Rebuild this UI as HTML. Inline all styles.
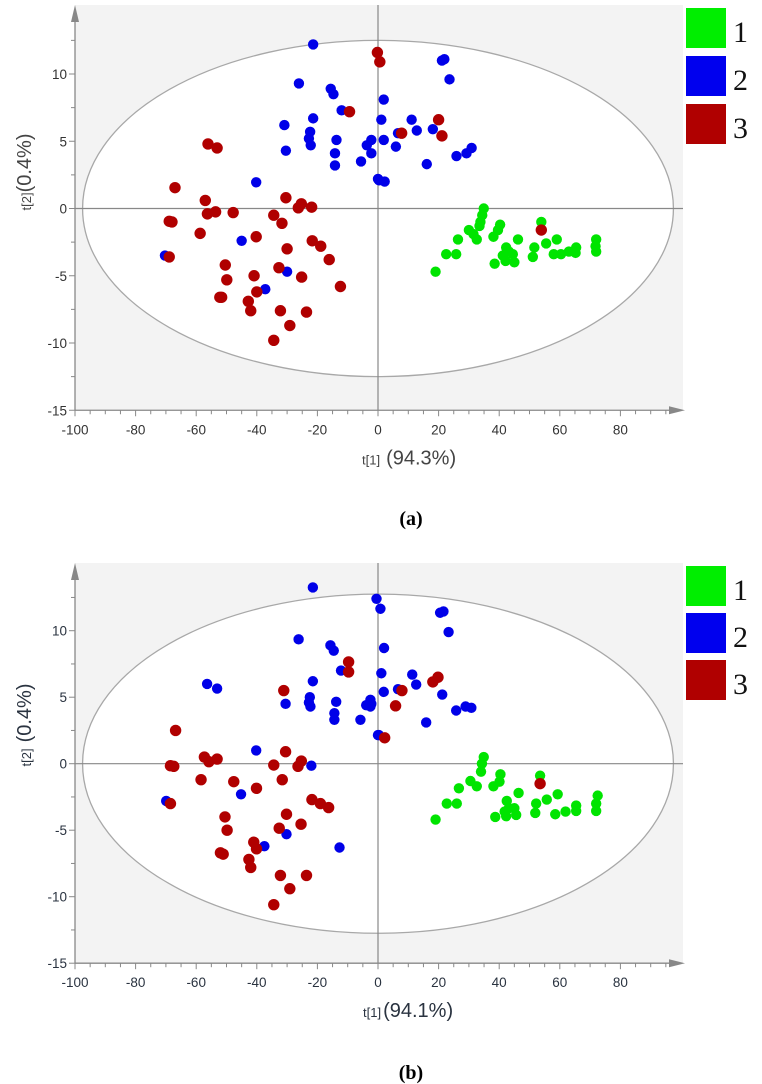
<!DOCTYPE html>
<html><head><meta charset="utf-8"><style>
html,body{margin:0;padding:0;background:#fff;width:762px;height:1084px;overflow:hidden}
svg{display:block}
</style></head><body>
<svg id="fig" width="762" height="1084" viewBox="0 0 762 1084" xmlns="http://www.w3.org/2000/svg"></svg>
<script>
// ---- Panel (a) data ----
const aG1x=[34.9,34.4,33.8,33.5,30,31.5,32.6,26.4,22.5,25.8,19,40.3,39.6,38.1,46.2,42.3,43.2,41.2,44.5,45,38.5,42.1,53.9,51.6,51.1,55.5,59,58,60.4,63,65.4,65.2,72,71.8,72];
const aG1y=[0,-0.5,-1,-1.3,-1.6,-1.9,-2.3,-2.3,-3.4,-3.4,-4.7,-1.2,-1.6,-2.1,-2.3,-2.9,-3.2,-3.5,-3.4,-4,-4.1,-3.9,-1.0,-2.9,-3.6,-2.6,-2.3,-3.4,-3.4,-3.2,-2.9,-3.3,-2.3,-2.8,-3.2];
const aB2x=[-21.4,-26.1,-15.6,-14.7,-12,-21.4,-30.9,-22.4,-22.8,-22.2,-13.7,-30.4,-14.2,-14.2,-5.6,-3.7,-2.2,-2.2,0.3,-40.2,-45,-70.3,-30,-37.2,21.1,21.9,23.6,1.9,1.1,1.9,11.1,12.8,18.1,5.9,16.1,25.9,29.2,30.9,0,2.2,6.6];
const aB2y=[12.2,9.3,8.9,8.5,7.3,6.7,6.2,5.7,5.2,4.7,5.1,4.3,4.1,3.2,3.5,4.7,5.1,4.1,2.1,1.95,-2.4,-3.5,-4.7,-6.0,11,11.1,9.6,8.1,6.6,5.1,6.6,5.8,5.9,4.6,3.3,3.9,4.1,4.5,2.2,2.0,5.6];
const aR3x=[-56.1,-53.1,-67,-57,-56.3,-53.6,-47.8,-68.9,-68,-58.7,-68.9,-50.4,-49.9,-52.2,-51.6,-40.2,-40.9,-40,-42.8,-42,-34.4,-31.7,-30.4,-30,-32.7,-32.2,-29.1,-34.4,-26.3,-25.3,-21.9,-25.2,-23.6,-21.7,-18.9,-16.1,-12.4,-9.4,-0.2,0.6,20,21.1,7.8,53.9];
const aR3y=[4.8,4.5,1.55,0.6,-0.4,-0.25,-0.3,-0.95,-1,-1.85,-3.6,-4.2,-5.3,-6.6,-6.6,-2.1,-5.0,-6.2,-6.9,-7.6,-0.5,-1.1,0.8,-3.0,-4.4,-7.6,-8.7,-9.8,0.05,0.35,0.1,-5.1,-7.7,-2.4,-2.8,-3.8,-5.8,7.2,11.6,10.9,6.6,5.4,5.6,-1.6];
// ---- Panel (b) data ----
const bG1x=[34.9,34.3,34,30.5,32.6,26.7,22.7,26,19,40.4,40.1,38.1,46.4,42.5,43.2,41.8,45,45.6,38.7,42.3,53.5,52.2,51.9,55.7,59.3,58.5,61.9,65.4,65.4,72.5,72,72];
const bG1y=[0.5,0,-0.6,-1.3,-1.7,-1.85,-3,-3,-4.2,-0.8,-1.35,-1.7,-2.2,-2.8,-3.35,-3.6,-3.35,-3.85,-4,-3.95,-0.9,-3,-3.7,-2.7,-2.3,-3.8,-3.6,-3.15,-3.55,-2.4,-3,-3.55];
const bB2x=[-21.5,-26.2,-15.7,-14.6,-12.2,-21.5,-56.4,-53.1,-30.5,-22.5,-22.8,-22.3,-13.8,-14.4,-14.4,-5.8,-3.9,-2.5,-2.5,0,-40.2,-22,-45.2,-69.9,-30.2,-37.5,-12.7,-0.5,0.8,20.5,21.6,23.3,2,1.1,1.9,11.3,12.6,6.6,21.2,-2.2,15.9,25.8,28.9,30.8,0.3];
const bB2y=[13.25,9.35,8.9,8.5,7,6.2,6,5.65,4.5,5,4.6,4.3,4.65,3.8,3.3,3.3,4.4,4.8,4.3,2.15,1.0,-0.15,-2.3,-2.8,-5.3,-6.2,-6.3,12.4,11.65,11.35,11.45,9.9,8.7,6.8,5.4,6.7,5.95,5.6,5.2,4.5,3.1,4,4.3,4.2,2.15];
const bR3x=[-66.8,-68.5,-67.4,-57.3,-55.8,-53.1,-58.4,-47.6,-68.5,-50.5,-49.8,-52,-51.1,-40.1,-41,-40.1,-42.6,-42,-34.4,-30.5,-31.6,-30.2,-32.6,-32.2,-29.1,-34.4,-26.4,-25.3,-21.8,-19,-16.3,-25.4,-23.6,-31.1,-9.7,-9.7,19.8,18.1,7.9,5.8,2.2,53.5];
const bR3y=[2.5,-0.15,-0.2,0.5,0.15,0.35,-1.2,-1.35,-3,-4,-5,-6.7,-6.8,-1.85,-5.9,-6.4,-7.2,-7.8,-0.1,0.9,-1.2,-3.8,-4.85,-8.4,-9.4,-10.6,-0.2,0.2,-2.7,-3,-3.3,-4.55,-8.4,5.5,7.65,6.9,6.5,6.15,5.5,4.35,1.95,-1.5];
// ---- Axis ticks ----
const xTicks=[-100,-80,-60,-40,-20,0,20,40,60,80];
const yTicks=[-15,-10,-5,0,5,10];
const legendLabels=["1","2","3"];

const NS="http://www.w3.org/2000/svg";
const svg=document.getElementById('fig');
function mk(tag,attrs,parent){const e=document.createElementNS(NS,tag);for(const k in attrs)e.setAttribute(k,attrs[k]);(parent||svg).appendChild(e);return e;}

function panel(P){
  const g=mk('g',{});
  
  
  const X=v=>P.x0+v*P.xs, Y=v=>P.y0-v*P.ys;
  const yb=Y(-15), xl=X(-100), xr=683, yt=P.top;
  const bg=mk('rect',{x:xl,y:yt,width:xr-xl,height:yb-yt,fill:'#f3f3f3'},g);
  
  
  const el=mk('ellipse',{cx:X(0),cy:Y(0),rx:97.5*P.xs,ry:P.ery*P.ys,fill:'#fff',stroke:'#a8a8a8','stroke-width':1.3},g);
  
  
  const h=mk('line',{x1:xl,x2:xr,y1:Y(0),y2:Y(0),stroke:'#888','stroke-width':1.2},g);
  
  
  const v=mk('line',{x1:X(0),x2:X(0),y1:yt,y2:yb,stroke:'#888','stroke-width':1.2},g);
  
  
  // axes
  const xa=mk('line',{x1:xl,x2:xr-10,y1:yb,y2:yb,stroke:'#888','stroke-width':1.3},g);
  
  
  const xarr=mk('polygon',{points:`${xr-14},${yb-4} ${xr+2},${yb} ${xr-14},${yb+4}`,fill:'#888'},g);
  
  
  const ya=mk('line',{x1:xl,x2:xl,y1:yt+14,y2:yb,stroke:'#888','stroke-width':1.3},g);
  
  
  const yarr=mk('polygon',{points:`${xl-4},${yt+17} ${xl},${yt} ${xl+4},${yt+17}`,fill:'#888'},g);
  
  
  for(let t=-100;t<=95;t+=5){const mj=t%20===0;mk('line',{x1:X(t),x2:X(t),y1:yb,y2:yb+(mj?6:4),stroke:'#888','stroke-width':1},g);}
  for(let t=-15;t<=12.5;t+=2.5){const mj=t%5===0;mk('line',{x1:xl-(mj?6:4),x2:xl,y1:Y(t),y2:Y(t),stroke:'#888','stroke-width':1},g);}
  xTicks.forEach(t=>{const tx=mk('text',{x:X(t),y:yb+24,'text-anchor':'middle','font-size':13.5,fill:P.tc,'font-family':'Liberation Sans, sans-serif'},g);tx.textContent=t;
    
    });
  yTicks.forEach(t=>{const tx=mk('text',{x:xl-8,y:Y(t)+5,'text-anchor':'end','font-size':13.5,fill:P.tc,'font-family':'Liberation Sans, sans-serif'},g);tx.textContent=t;
    
    });
  // titles
  const xt=mk('text',{x:P.xtx,y:yb+54,'font-family':'Liberation Sans, sans-serif',fill:P.lc},g);
  
  
  const s1=mk('tspan',{'font-size':13},xt);s1.textContent='t[1]';
  const s2=mk('tspan',{'font-size':20,dx:P.gap},xt);s2.textContent=P.xpct;
  const yt2=mk('text',{x:0,y:0,transform:`translate(31,${P.ytc}) rotate(-90)`,'text-anchor':'middle','font-family':'Liberation Sans, sans-serif',fill:P.lc},g);
  
  
  const s3=mk('tspan',{'font-size':13},yt2);s3.textContent='t[2]';
  const s4=mk('tspan',{'font-size':20,dx:P.ygap},yt2);s4.textContent='(0.4%)';
  // points
  const series=[[P.g1x,P.g1y,'#00e400',5.2,'class-1-point'],[P.b2x,P.b2y,'#0000e8',5.2,'class-2-point'],[P.r3x,P.r3y,'#b00000',5.7,'class-3-point']];
  series.forEach(([xs,ys,c,r,nm])=>{xs.forEach((xv,i)=>{const d=mk('circle',{cx:X(xv),cy:Y(ys[i]),r:r,fill:c},g);
    
    });});
  // legend
  const cols=['#00ee00','#0000ee','#b00000'];
  legendLabels.forEach((lb,i)=>{
    const ly=P.legY+i*P.legStep;
    const r=mk('rect',{x:686,y:ly,width:40,height:40,fill:cols[i]},g);
    
    
    const t=mk('text',{x:733,y:ly+34,'font-size':30,'font-family':'Liberation Serif, serif',fill:'#111'},g);t.textContent=lb;
    
    
  });
  const cap=mk('text',{x:411,y:P.capY,'text-anchor':'middle','font-size':20,'font-weight':'bold','font-family':'Liberation Serif, serif',fill:'#000'},g);
  cap.textContent=P.cap;
  
  
}
panel({name:'panel-a',x0:378,xs:3.03,y0:208.5,ys:13.45,top:5,ery:12.5,tc:'#333',lc:'#444',xtx:362,gap:6,xpct:'(94.3%)',ytc:172,ygap:0,g1x:aG1x,g1y:aG1y,b2x:aB2x,b2y:aB2y,r3x:aR3x,r3y:aR3y,legY:8,legStep:48,capY:525,cap:'(a)'});
panel({name:'panel-b',x0:378,xs:3.03,y0:763.7,ys:13.3,top:563,ery:12.75,tc:'#2a3340',lc:'#2a3340',xtx:363,gap:2,xpct:'(94.1%)',ytc:725,ygap:6,g1x:bG1x,g1y:bG1y,b2x:bB2x,b2y:bB2y,r3x:bR3x,r3y:bR3y,legY:566,legStep:47,capY:1079,cap:'(b)'});
</script>
</body></html>
